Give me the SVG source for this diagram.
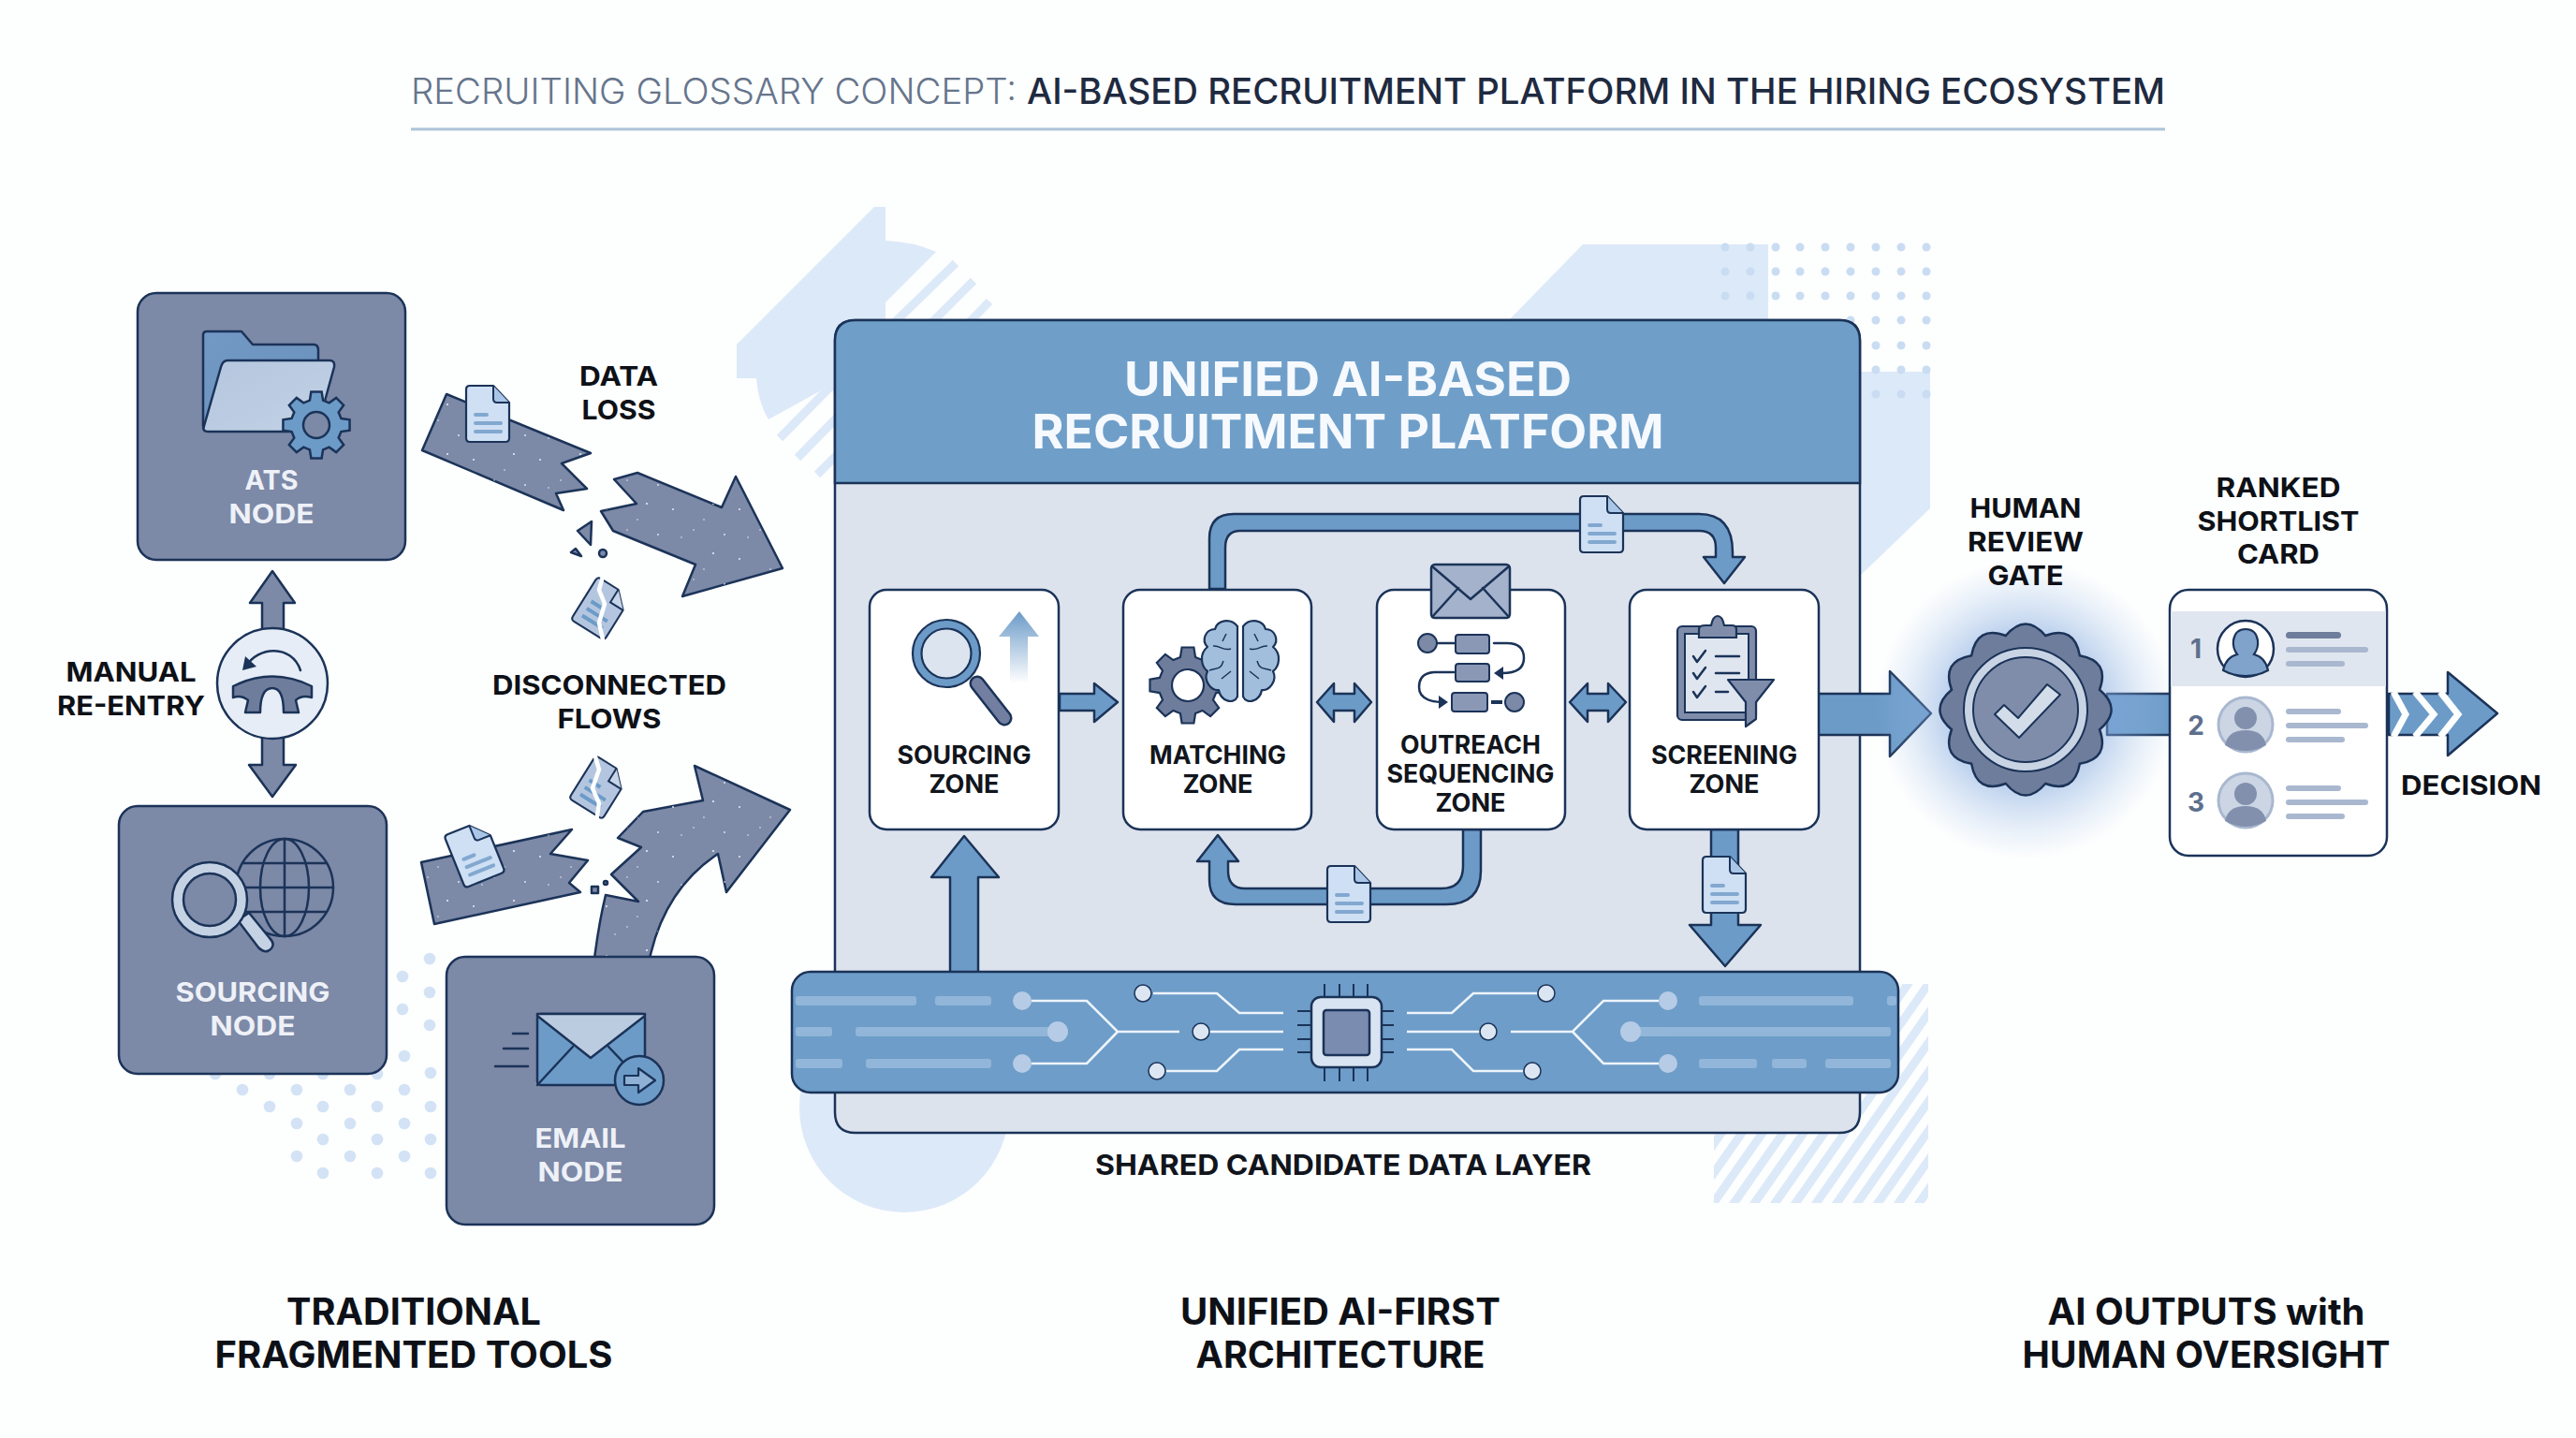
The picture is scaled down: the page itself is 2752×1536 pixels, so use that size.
<svg xmlns="http://www.w3.org/2000/svg" width="2752" height="1536" viewBox="0 0 2752 1536">
<style>
text{font-family:"Inter","Open Sans","Liberation Sans",sans-serif;text-anchor:middle;font-weight:700;fill:#0d1117}
.lb{font-size:29px}
.nl{font-size:28px;fill:#eef1f7}
.zl{font-size:27px;fill:#11151c}
.bt{font-size:39px}
.ht{font-size:51px;fill:#f6f9fd}
.tt{font-size:38px;text-anchor:start;fill:#1e2a40;font-weight:500}
.tl{fill:#66758c;font-weight:300}
.n{fill:#7c89a7;stroke:#1b3358;stroke-width:2.5}
.o{stroke:#1b3358;stroke-width:2.5;stroke-linejoin:round}
.bf{fill:#6c9bc8}
.wl{fill:none;stroke:#eef4fb;stroke-width:2.6}
.nd{fill:#dbe6f2;stroke:#1b3358;stroke-width:1.5}
.gn{fill:#b6cbe6}
.pin{stroke:#1b3358;stroke-width:2;fill:none}
.dsh{fill:#a9c6e4;opacity:.62}
.bg{fill:#dce9f8}
.bs{stroke:#dce9f8;stroke-width:9;fill:none}
.line{fill:none;stroke:#1b3358;stroke-width:2.5;stroke-linecap:round;stroke-linejoin:round}
.rl{fill:#a9b8cf}
.rk{fill:#5e6f8e;font-size:28px}
</style>
<defs>
<linearGradient id="fade" x1="0" y1="0" x2="0" y2="1"><stop offset="0" stop-color="#6c9bc8"/><stop offset="1" stop-color="#6c9bc8" stop-opacity="0"/></linearGradient>
<linearGradient id="fold" x1="0" y1="0" x2="1" y2="1"><stop offset="0" stop-color="#7298c4"/><stop offset="1" stop-color="#6a90bc"/></linearGradient>
<linearGradient id="fold2" x1="0" y1="0" x2="1" y2="1"><stop offset="0" stop-color="#b4c6de"/><stop offset="1" stop-color="#c2d2e6"/></linearGradient>
<radialGradient id="glow"><stop offset="0.45" stop-color="#7aa3dc" stop-opacity=".6"/><stop offset="1" stop-color="#a9c6ea" stop-opacity="0"/></radialGradient>
<pattern id="hatch" width="18" height="18" patternUnits="userSpaceOnUse" patternTransform="rotate(35)"><rect width="9" height="18" fill="#dce9f8"/></pattern>
<pattern id="speck" width="71" height="53" patternUnits="userSpaceOnUse">
<g fill="#e8edf5"><circle cx="9" cy="14" r="1"/><circle cx="31" cy="36" r=".8"/><circle cx="52" cy="8" r="1.1"/><circle cx="64" cy="41" r=".9"/><circle cx="18" cy="44" r=".8"/><circle cx="42" cy="25" r=".8"/></g></pattern>
<polygon id="gear" points=".734,-.197 .988,-.156 .988,.156 .734,.197 .658,.38 .809,.588 .588,.809 .38,.658 .197,.734 .156,.988 -.156,.988 -.197,.734 -.38,.658 -.588,.809 -.809,.588 -.658,.38 -.734,.197 -.988,.156 -.988,-.156 -.734,-.197 -.658,-.38 -.809,-.588 -.588,-.809 -.38,-.658 -.197,-.734 -.156,-.988 .156,-.988 .197,-.734 .38,-.658 .588,-.809 .809,-.588 .658,-.38" vector-effect="non-scaling-stroke"/>
<g id="doc"><path d="M4 0H29L46 18V56Q46 60 42 60H4Q0 60 0 56V4Q0 0 4 0Z" fill="#cfe0f4" stroke="#1b3358" stroke-width="2.2" stroke-linejoin="round"/><path d="M29 0V14Q29 18 33 18H46" fill="#a9c6e6" stroke="#1b3358" stroke-width="2" stroke-linejoin="round"/><g fill="#82a8d0"><rect x="8" y="29" width="16" height="4" rx="2"/><rect x="8" y="38" width="31" height="4" rx="2"/><rect x="8" y="47" width="31" height="4" rx="2"/></g></g>
<g id="tdoc"><path d="M4 0H26L42 16V50Q42 54 38 54H4Q0 54 0 50V4Q0 0 4 0Z" fill="#b4c6df" stroke="#1b3358" stroke-width="2" stroke-linejoin="round"/><path d="M26 0V16H42" fill="#c6d5e8" stroke="#1b3358" stroke-width="2"/><g fill="#6c9bc8"><rect x="8" y="24" width="14" height="4"/><rect x="8" y="33" width="26" height="4"/><rect x="8" y="42" width="26" height="4"/></g></g>
<path id="badge" d="M.850 .228Q.970 .56 .622 .622Q.56 .970 .228 .850Q0 1.12 -.228 .850Q-.56 .970 -.622 .622Q-.97 .56 -.850 .228Q-1.12 0 -.850 -.228Q-.97 -.56 -.622 -.622Q-.56 -.97 -.228 -.850Q0 -1.12 .228 -.850Q.56 -.97 .622 -.622Q.97 -.56 .850 -.228Q1.12 0 .850 .228Z" vector-effect="non-scaling-stroke"/>
<path id="lobe" d="M1322 669C1314 659 1300 663 1298 672C1288 672 1283 684 1290 691C1281 698 1283 712 1290 717C1285 727 1294 738 1302 737C1304 749 1318 753 1322 744Z" fill="#a1bfdd" stroke="#1b3358" stroke-width="2.2" stroke-linejoin="round"/>
<path id="sulci" d="M1296 690C1304 689 1306 696 1315 693M1292 716C1300 713 1304 716 1307 706M1305 725L1315 717M1310 677L1306 685" fill="none" stroke="#1b3358" stroke-width="1.5"/>
</defs>
<rect width="2752" height="1536" fill="#fdfefe"/>

<g id="background">
<path class="bg" d="M934 221H946V257Q975 258 1000 269L946 323V420H890V410L821 448Q810 430 808 404H787V368Z"/>
<path class="bs" d="M1021 281L950 350M1040 300L990 350M1057 322L1030 350M833 468L900 400M852 489L900 440M873 507L900 480"/>
<path class="bg" d="M1691 261H1889V397H2062V543L1987 615V400L1612 342Z"/>
<g fill="#c9dcf2" id="dotsTop">
<circle cx="1843" cy="264" r="4.5"/><circle cx="1870" cy="264" r="4.5"/><circle cx="1897" cy="264" r="4.5"/><circle cx="1923" cy="264" r="4.5"/><circle cx="1950" cy="264" r="4.5"/><circle cx="1977" cy="264" r="4.5"/><circle cx="2004" cy="264" r="4.5"/><circle cx="2031" cy="264" r="4.5"/><circle cx="2058" cy="264" r="4.5"/>
<circle cx="1843" cy="290" r="4.5"/><circle cx="1870" cy="290" r="4.5"/><circle cx="1897" cy="290" r="4.5"/><circle cx="1923" cy="290" r="4.5"/><circle cx="1950" cy="290" r="4.5"/><circle cx="1977" cy="290" r="4.5"/><circle cx="2004" cy="290" r="4.5"/><circle cx="2031" cy="290" r="4.5"/><circle cx="2058" cy="290" r="4.5"/>
<circle cx="1843" cy="316" r="4.5"/><circle cx="1870" cy="316" r="4.5"/><circle cx="1897" cy="316" r="4.5"/><circle cx="1923" cy="316" r="4.5"/><circle cx="1950" cy="316" r="4.5"/><circle cx="1977" cy="316" r="4.5"/><circle cx="2004" cy="316" r="4.5"/><circle cx="2031" cy="316" r="4.5"/><circle cx="2058" cy="316" r="4.5"/>
<circle cx="1977" cy="342" r="4.5"/><circle cx="2004" cy="342" r="4.5"/><circle cx="2031" cy="342" r="4.5"/><circle cx="2058" cy="342" r="4.5"/>
<circle cx="2004" cy="369" r="4.5"/><circle cx="2031" cy="369" r="4.5"/><circle cx="2058" cy="369" r="4.5"/>
<circle cx="2004" cy="395" r="4.5"/><circle cx="2031" cy="395" r="4.5"/><circle cx="2058" cy="395" r="4.5"/>
<circle cx="2004" cy="421" r="4.5"/><circle cx="2031" cy="421" r="4.5"/><circle cx="2058" cy="421" r="4.5"/>
</g>
<g fill="#d3e3f5" id="dotsBottom">
<circle cx="459" cy="1024" r="6.3"/><circle cx="430" cy="1043" r="6.3"/><circle cx="459" cy="1060" r="6.3"/><circle cx="430" cy="1078" r="6.3"/><circle cx="459" cy="1095" r="6.3"/><circle cx="432" cy="1128" r="6.3"/><circle cx="460" cy="1146" r="6.3"/>
<circle cx="230" cy="1147" r="6.3"/><circle cx="288" cy="1147" r="6.3"/><circle cx="345" cy="1147" r="6.3"/><circle cx="403" cy="1147" r="6.3"/>
<circle cx="259" cy="1164" r="6.3"/><circle cx="317" cy="1164" r="6.3"/><circle cx="374" cy="1164" r="6.3"/><circle cx="432" cy="1164" r="6.3"/>
<circle cx="288" cy="1182" r="6.3"/><circle cx="345" cy="1182" r="6.3"/><circle cx="403" cy="1182" r="6.3"/><circle cx="460" cy="1182" r="6.3"/>
<circle cx="317" cy="1200" r="6.3"/><circle cx="374" cy="1200" r="6.3"/><circle cx="432" cy="1200" r="6.3"/>
<circle cx="345" cy="1217" r="6.3"/><circle cx="403" cy="1217" r="6.3"/><circle cx="460" cy="1217" r="6.3"/>
<circle cx="317" cy="1235" r="6.3"/><circle cx="374" cy="1235" r="6.3"/><circle cx="432" cy="1235" r="6.3"/>
<circle cx="345" cy="1253" r="6.3"/><circle cx="403" cy="1253" r="6.3"/><circle cx="460" cy="1253" r="6.3"/>
</g>
<circle class="bg" cx="966" cy="1183" r="112"/>
<rect x="1831" y="1051" width="229" height="234" fill="url(#hatch)"/>
</g>

<g id="title">
<text class="tt tl" x="439" y="111" textLength="647" lengthAdjust="spacingAndGlyphs">RECRUITING GLOSSARY CONCEPT:</text>
<text class="tt" x="1097" y="111" textLength="1216" lengthAdjust="spacingAndGlyphs">AI-BASED RECRUITMENT PLATFORM IN THE HIRING ECOSYSTEM</text>
<rect x="439" y="136.5" width="1874" height="3" fill="#aec3da"/>
</g>

<g id="platform-panel">
<path d="M914 342H1965Q1987 342 1987 364V1188Q1987 1210 1965 1210H914Q892 1210 892 1188V364Q892 342 914 342Z" fill="#dce3ed" stroke="#1b3358" stroke-width="2.5"/>
<path d="M914 342H1965Q1987 342 1987 364V516H892V364Q892 342 914 342Z" fill="#6f9fc9" stroke="#1b3358" stroke-width="2.5"/>
<text class="ht" x="1440" y="423" textLength="478" lengthAdjust="spacingAndGlyphs">UNIFIED AI-BASED</text>
<text class="ht" x="1440" y="479" textLength="675" lengthAdjust="spacingAndGlyphs">RECRUITMENT PLATFORM</text>
</g>

<g id="connectors">
<g id="broken-top" class="o">
<polygon class="n" points="477,421 631,484 600,495 627,522 594,527 602,545 451,481"/>
<polygon points="477,421 631,484 600,495 627,522 594,527 602,545 451,481" fill="url(#speck)" stroke="none"/>
<polygon class="n" points="656,512 681,505 771,542 786,509 836,607 729,637 743,603 655,567 642,546 680,538"/>
<polygon points="656,512 681,505 771,542 786,509 836,607 729,637 743,603 655,567 642,546 680,538" fill="url(#speck)" stroke="none"/>
<polygon class="n" points="617,567 632,557 631,582"/>
<polygon class="n" points="610,590 615,586 621,594"/>
<circle class="n" cx="644" cy="591" r="4"/>
</g>
<use href="#doc" x="498" y="412"/>
<g transform="translate(642 650) rotate(32) translate(-21 -27)"><use href="#tdoc"/></g>
<path d="M645 612L640 630L646 645L640 665L645 688" fill="none" stroke="#fdfefe" stroke-width="4.5"/>

<g id="broken-bottom" class="o">
<polygon class="n" points="450,921 611,886 588,912 628,919 608,943 620,953 464,987"/>
<polygon points="450,921 611,886 588,912 628,919 608,943 620,953 464,987" fill="url(#speck)" stroke="none"/>
<path class="n" d="M635 1024Q640 985 647 956L682 963L665 946L653 934L685 905L660 895L687 867L751 855L742 818L844 865L776 953L767 912Q710 950 694 1024Z"/>
<path d="M635 1024Q640 985 647 956L682 963L665 946L653 934L685 905L660 895L687 867L751 855L742 818L844 865L776 953L767 912Q710 950 694 1024Z" fill="url(#speck)" stroke="none"/>
<rect class="n" x="632" y="947" width="7" height="7"/><circle class="n" cx="647" cy="943" r="2"/>
</g>
<g transform="translate(507 912) rotate(-22) translate(-23 -30)"><use href="#doc"/></g>
<g transform="translate(640 841) rotate(32) translate(-21 -27)"><use href="#tdoc"/></g>
<path d="M635 805L640 822L633 842L640 858L637 878" fill="none" stroke="#fdfefe" stroke-width="4.5"/>

<polygon class="n o" points="291,610 315,644 303,644 303,680 280,680 280,644 267,644"/>
<polygon class="n o" points="280,780 303,780 303,817 316,817 291,851 266,817 280,817"/>

<g class="o bf">
<polygon points="1132,741 1169,741 1169,730 1194,750 1169,771 1169,759 1132,759"/>
<polygon points="1407,750 1425,730 1425,741 1447,741 1447,730 1465,750 1447,771 1447,759 1425,759 1425,771"/>
<polygon points="1677,750 1696,730 1696,741 1718,741 1718,730 1737,750 1718,771 1718,759 1696,759 1696,771"/>
<path d="M1292 629V575Q1292 549 1318 549H1815Q1851 549 1851 590V595H1864L1842 623L1820 595H1833V585Q1833 567 1815 567H1325Q1309 567 1309 585V629Z"/>
<path d="M1563 886V925Q1563 949 1540 949H1330Q1312 949 1312 930V920H1323L1301 892L1279 920H1292V940Q1292 966 1320 966H1545Q1582 966 1582 930V886Z"/>
<polygon points="1030,893 1067,937 1045,937 1045,1040 1015,1040 1015,937 995,937"/>
<polygon points="1828,886 1857,886 1857,988 1881,988 1843,1032 1805,988 1828,988"/>
<polygon points="1942,741 2019,741 2019,717 2063,762 2019,808 2019,785 1942,785"/>
<rect x="2251" y="741" width="70" height="44"/>
<polygon points="2552,741 2615,741 2615,718 2668,762 2615,807 2615,785 2552,785"/>
</g>
<path d="M2557 739L2570 763L2557 787M2580 739L2600 763L2580 787M2607 739L2626 763L2607 787" fill="none" stroke="#fdfefe" stroke-width="7"/>
<use href="#doc" x="1688" y="530"/>
<use href="#doc" x="1418" y="925"/>
<use href="#doc" x="1819" y="915"/>
</g>

<g id="ats-node">
<rect class="n" x="147" y="313" width="286" height="285" rx="20"/>
<path class="line" d="M221 354H258L270 368H335Q340 368 340 374V460H222Q217 460 217 455V358Q217 354 221 354Z" style="fill:url(#fold)"/>
<path class="line" d="M243 385H352Q358 385 357 392L338 461H222Q216 461 218 455L236 392Q238 385 243 385Z" style="fill:url(#fold2)"/>
<use href="#gear" transform="translate(338 454) scale(36)" fill="#6c9bc8" stroke="#1b3358" stroke-width="2.5"/>
<circle cx="338" cy="454" r="14" fill="#7c89a7" stroke="#1b3358" stroke-width="2.5"/>
<text class="nl" x="290" y="523" textLength="57" lengthAdjust="spacingAndGlyphs">ATS</text>
<text class="nl" x="290" y="559" textLength="91" lengthAdjust="spacingAndGlyphs">NODE</text>
</g>

<g id="sourcing-node">
<rect class="n" x="127" y="861" width="286" height="286" rx="20"/>
<circle cx="304" cy="948" r="52" fill="#7c89a7" stroke="#1b3358" stroke-width="2.5"/>
<ellipse cx="304" cy="948" rx="26" ry="52" fill="none" stroke="#1b3358" stroke-width="2.5"/>
<path d="M304 896V1000M252 948H356M259 922H349M259 974H349" class="line"/>
<path d="M254 983L276 1012Q284 1020 290 1013Q294 1008 288 1002L266 975Z" fill="#c4d2e4" stroke="#1b3358" stroke-width="2.5"/>
<circle cx="224" cy="961" r="34" fill="#7c89a7" stroke="#c4d2e4" stroke-width="11"/>
<circle cx="224" cy="961" r="40" fill="none" stroke="#1b3358" stroke-width="2.5"/><circle cx="224" cy="961" r="28" fill="none" stroke="#1b3358" stroke-width="2.5"/>
<text class="nl" x="270" y="1070" textLength="165" lengthAdjust="spacingAndGlyphs">SOURCING</text>
<text class="nl" x="270" y="1106" textLength="91" lengthAdjust="spacingAndGlyphs">NODE</text>
</g>

<g id="email-node">
<rect class="n" x="477" y="1022" width="286" height="286" rx="20"/>
<path d="M548 1104H564M538 1120H564M529 1139H564" class="line" stroke-width="2"/>
<rect x="574" y="1083" width="115" height="76" rx="4" fill="#6c9bc8" stroke="#1b3358" stroke-width="2.5"/>
<path d="M574 1085L631 1130L689 1085V1083H574Z" fill="#bccce0" stroke="#1b3358" stroke-width="2.5" stroke-linejoin="round"/>
<path d="M574 1159L612 1118M689 1159L650 1118" class="line" stroke-width="2"/>
<circle cx="683" cy="1154" r="26" fill="#6c9bc8" stroke="#1b3358" stroke-width="2.5"/>
<path d="M667 1149H682V1141L700 1154L682 1167V1159H667Z" fill="#8fb1d6" stroke="#1b3358" stroke-width="2.2" stroke-linejoin="round"/>
<text class="nl" x="620" y="1226" textLength="97" lengthAdjust="spacingAndGlyphs">EMAIL</text>
<text class="nl" x="620" y="1262" textLength="91" lengthAdjust="spacingAndGlyphs">NODE</text>
</g>

<g id="manual-reentry">
<circle cx="291" cy="730" r="59" fill="#e6edf6" stroke="#1b3358" stroke-width="2.5"/>
<path d="M321 716C312 688 275 690 263 712" class="line"/>
<polygon points="259,716 262,701 274,712" fill="#1b3358"/>
<path d="M249 733Q291 712 333 733V745Q322 742 316 748L319 761H303Q303 735 291 735Q278 735 278 761H262L265 748Q258 742 249 745Z" fill="#6f7d9c" stroke="#1b3358" stroke-width="2.5" stroke-linejoin="round"/>
<text class="lb" x="140" y="728" textLength="139" lengthAdjust="spacingAndGlyphs">MANUAL</text>
<text class="lb" x="140" y="764" textLength="158" lengthAdjust="spacingAndGlyphs">RE-ENTRY</text>
</g>

<g id="labels-left">
<text class="lb" x="661" y="412" textLength="84" lengthAdjust="spacingAndGlyphs">DATA</text>
<text class="lb" x="661" y="448" textLength="79" lengthAdjust="spacingAndGlyphs">LOSS</text>
<text class="lb" x="651" y="742" textLength="250" lengthAdjust="spacingAndGlyphs">DISCONNECTED</text>
<text class="lb" x="651" y="778" textLength="111" lengthAdjust="spacingAndGlyphs">FLOWS</text>
</g>

<g id="sourcing-zone">
<rect x="929" y="630" width="202" height="256" rx="18" fill="#fff" stroke="#1b3358" stroke-width="2.5"/>
<path d="M1044 730L1073 767" stroke="#1b3358" stroke-width="17" stroke-linecap="round"/><path d="M1044 730L1073 767" stroke="#727fa0" stroke-width="12" stroke-linecap="round"/>
<circle cx="1011" cy="698" r="31" fill="#dbe4ef" stroke="#6c9bc8" stroke-width="9"/>
<circle cx="1011" cy="698" r="36" fill="none" stroke="#1b3358" stroke-width="2.2"/><circle cx="1011" cy="698" r="26.5" fill="none" stroke="#1b3358" stroke-width="2.2"/>
<path d="M1079 730V680H1067L1089 653L1110 680H1098V730Z" fill="url(#fade)"/>
<text class="zl" x="1030" y="816" textLength="143" lengthAdjust="spacingAndGlyphs">SOURCING</text>
<text class="zl" x="1030" y="847" textLength="75" lengthAdjust="spacingAndGlyphs">ZONE</text>
</g>

<g id="matching-zone">
<rect x="1200" y="630" width="201" height="256" rx="18" fill="#fff" stroke="#1b3358" stroke-width="2.5"/>
<use href="#gear" transform="translate(1269 732) scale(41)" fill="#6f7d9c" stroke="#1b3358" stroke-width="2.2"/>
<circle cx="1269" cy="732" r="17" fill="#fff" stroke="#1b3358" stroke-width="2.2"/>
<use href="#lobe"/><use href="#sulci"/>
<g transform="translate(2650 0) scale(-1 1)"><use href="#lobe"/><use href="#sulci"/></g>
<text class="zl" x="1301" y="816" textLength="146" lengthAdjust="spacingAndGlyphs">MATCHING</text>
<text class="zl" x="1301" y="847" textLength="75" lengthAdjust="spacingAndGlyphs">ZONE</text>
</g>

<g id="outreach-zone">
<rect x="1471" y="630" width="201" height="256" rx="18" fill="#fff" stroke="#1b3358" stroke-width="2.5"/>
<rect x="1529" y="603" width="84" height="57" rx="4" fill="#a4b2cc" stroke="#1b3358" stroke-width="2.5"/>
<path d="M1530 605L1571 640L1612 605M1530 659L1558 628M1612 659L1584 628" class="line" stroke-width="2"/>
<circle cx="1525" cy="687" r="10" fill="#7c89a7" stroke="#1b3358" stroke-width="2"/>
<path d="M1536 687H1555M1596 687H1610Q1628 687 1628 703T1605 719" class="line" stroke-width="2"/>
<rect x="1555" y="678" width="36" height="20" rx="3" fill="#8a98b6" stroke="#1b3358" stroke-width="2"/>
<polygon points="1596,719 1606,712 1606,726" fill="#1b3358"/>
<rect x="1555" y="709" width="36" height="19" rx="3" fill="#8a98b6" stroke="#1b3358" stroke-width="2"/>
<path d="M1553 718H1532Q1516 719 1516 734T1540 750" class="line" stroke-width="2"/>
<polygon points="1547,750 1537,743 1537,757" fill="#1b3358"/>
<rect x="1551" y="740" width="38" height="20" rx="3" fill="#8a98b6" stroke="#1b3358" stroke-width="2"/>
<path d="M1593 750H1605" stroke="#1b3358" stroke-width="4"/>
<circle cx="1618" cy="750" r="10" fill="#7c89a7" stroke="#1b3358" stroke-width="2"/>
<text class="zl" x="1571" y="805" textLength="150" lengthAdjust="spacingAndGlyphs">OUTREACH</text>
<text class="zl" x="1571" y="836" textLength="179" lengthAdjust="spacingAndGlyphs">SEQUENCING</text>
<text class="zl" x="1571" y="867" textLength="75" lengthAdjust="spacingAndGlyphs">ZONE</text>
</g>

<g id="screening-zone">
<rect x="1741" y="630" width="202" height="256" rx="18" fill="#fff" stroke="#1b3358" stroke-width="2.5"/>
<rect x="1792" y="669" width="84" height="100" rx="5" fill="#7f8dab" stroke="#1b3358" stroke-width="2.2"/>
<rect x="1800" y="677" width="68" height="84" fill="#dfe6f0" stroke="#1b3358" stroke-width="2"/>
<path d="M1815 681V672Q1815 668 1822 668H1828Q1830 658 1835 658T1842 668H1850Q1855 668 1855 672V681Z" fill="#7f8dab" stroke="#1b3358" stroke-width="2.2"/>
<path d="M1809 701L1813 707L1822 695M1833 701H1858M1809 719L1813 725L1822 713M1833 719H1858M1809 739L1813 745L1822 733M1833 739H1846" class="line"/>
<path d="M1846 726H1895L1876 750V768L1865 776V750Z" fill="#7f8dab" stroke="#1b3358" stroke-width="2.2" stroke-linejoin="round"/>
<text class="zl" x="1842" y="816" textLength="156" lengthAdjust="spacingAndGlyphs">SCREENING</text>
<text class="zl" x="1842" y="847" textLength="75" lengthAdjust="spacingAndGlyphs">ZONE</text>
</g>

<g id="data-layer">
<rect x="846" y="1038" width="1182" height="129" rx="20" fill="#6d9dc8" stroke="#1b3358" stroke-width="2.5"/>
<g class="dsh">
<rect x="850" y="1064" width="129" height="10" rx="3"/><rect x="999" y="1064" width="60" height="10" rx="3"/>
<rect x="850" y="1097" width="39" height="10" rx="3"/><rect x="914" y="1097" width="216" height="10" rx="3"/>
<rect x="850" y="1131" width="50" height="10" rx="3"/><rect x="925" y="1131" width="134" height="10" rx="3"/>
<rect x="1815" y="1064" width="165" height="10" rx="3"/><rect x="2016" y="1064" width="10" height="10" rx="3"/>
<rect x="1742" y="1097" width="278" height="10" rx="3"/>
<rect x="1815" y="1131" width="62" height="10" rx="3"/><rect x="1893" y="1131" width="37" height="10" rx="3"/><rect x="1950" y="1131" width="70" height="10" rx="3"/>
</g>
<path class="wl" d="M1371 1082H1324L1300 1061H1232M1371 1102H1292M1371 1121H1324L1300 1144H1246M1260 1102H1194L1161 1069H1102M1194 1102L1161 1136H1102"/>
<path class="wl" d="M1503 1082H1551L1574 1061H1642M1503 1102H1582M1503 1121H1551L1574 1144H1627M1614 1102H1680L1713 1069H1772M1680 1102L1713 1136H1772"/>
<g class="nd"><circle cx="1221" cy="1061" r="9"/><circle cx="1283" cy="1102" r="9"/><circle cx="1236" cy="1144" r="9"/><circle cx="1652" cy="1061" r="9"/><circle cx="1590" cy="1102" r="9"/><circle cx="1637" cy="1144" r="9"/></g>
<g class="gn"><circle cx="1092" cy="1069" r="10"/><circle cx="1130" cy="1102" r="11"/><circle cx="1092" cy="1136" r="10"/><circle cx="1782" cy="1069" r="10"/><circle cx="1742" cy="1102" r="11"/><circle cx="1782" cy="1136" r="10"/></g>
<path class="pin" d="M1415 1051V1065M1431 1051V1065M1446 1051V1065M1461 1051V1065M1415 1140V1155M1431 1140V1155M1446 1140V1155M1461 1140V1155"/>
<path class="pin" d="M1386 1080H1401M1386 1095H1401M1386 1110H1401M1386 1124H1401M1475 1080H1489M1475 1095H1489M1475 1110H1489M1475 1124H1489" stroke-width="3"/>
<rect x="1401" y="1065" width="75" height="75" rx="10" fill="#d8e4f2" stroke="#1b3358" stroke-width="2.5"/>
<rect x="1414" y="1079" width="49" height="48" rx="3" fill="#7a8db0" stroke="#1b3358" stroke-width="2.5"/>
<text class="zl" x="1435" y="1255" style="font-size:30px" textLength="530" lengthAdjust="spacingAndGlyphs">SHARED CANDIDATE DATA LAYER</text>
</g>

<g id="human-review-gate">
<circle cx="2164" cy="758" r="160" fill="url(#glow)"/>
<use href="#badge" transform="translate(2164 758) scale(93)" fill="#6f7d9c" stroke="#1b3358" stroke-width="2.5"/>
<circle cx="2164" cy="758" r="61" fill="#7f8dab" stroke="#c8d4e4" stroke-width="10"/>
<circle cx="2164" cy="758" r="66" fill="none" stroke="#1b3358" stroke-width="2"/><circle cx="2164" cy="758" r="56" fill="none" stroke="#1b3358" stroke-width="2"/>
<polygon points="2131,763 2157,788 2201,742 2187,731 2156,767 2141,753" fill="#d3dde9" stroke="#1b3358" stroke-width="2" stroke-linejoin="round"/>
<text class="lb" x="2164" y="553" textLength="119" lengthAdjust="spacingAndGlyphs">HUMAN</text>
<text class="lb" x="2164" y="589" textLength="124" lengthAdjust="spacingAndGlyphs">REVIEW</text>
<text class="lb" x="2164" y="625" textLength="81" lengthAdjust="spacingAndGlyphs">GATE</text>
</g>

<g id="shortlist-card">
<rect x="2318" y="630" width="232" height="284" rx="20" fill="#fff" stroke="#1b3358" stroke-width="2.5"/>
<rect x="2319" y="653" width="230" height="80" fill="#e0e6f0"/>
<text class="rk" x="2346" y="703">1</text><text class="rk" x="2346" y="785">2</text><text class="rk" x="2346" y="867">3</text>
<circle cx="2399" cy="693" r="30" fill="#fff" stroke="#1b3358" stroke-width="2.5"/>
<path d="M2375 716Q2378 702 2390 699Q2385 692 2386 684Q2388 672 2399 672Q2410 672 2412 684Q2413 692 2408 699Q2420 702 2423 716Q2412 722 2399 722Q2386 722 2375 716Z" fill="#7fa3cb" stroke="#1b3358" stroke-width="2.2"/>
<circle cx="2399" cy="774" r="29" fill="#cbd5e4" stroke="#a9b8cf" stroke-width="3"/>
<circle cx="2399" cy="767" r="12" fill="#8290ad"/><path d="M2377 796Q2380 780 2399 780Q2418 780 2421 796Q2399 808 2377 796Z" fill="#8290ad"/>
<circle cx="2399" cy="855" r="29" fill="#cbd5e4" stroke="#a9b8cf" stroke-width="3"/>
<circle cx="2399" cy="848" r="12" fill="#8290ad"/><path d="M2377 877Q2380 861 2399 861Q2418 861 2421 877Q2399 889 2377 877Z" fill="#8290ad"/>
<rect x="2442" y="675" width="59" height="7" rx="3.5" fill="#6f7d9c"/><rect class="rl" x="2442" y="691" width="88" height="6" rx="3"/><rect class="rl" x="2442" y="706" width="63" height="6" rx="3"/>
<rect class="rl" x="2442" y="757" width="59" height="6" rx="3"/><rect class="rl" x="2442" y="772" width="88" height="6" rx="3"/><rect class="rl" x="2442" y="787" width="63" height="6" rx="3"/>
<rect class="rl" x="2442" y="839" width="59" height="6" rx="3"/><rect class="rl" x="2442" y="854" width="88" height="6" rx="3"/><rect class="rl" x="2442" y="869" width="63" height="6" rx="3"/>
<text class="lb" x="2434" y="531" textLength="133" lengthAdjust="spacingAndGlyphs">RANKED</text>
<text class="lb" x="2434" y="567" textLength="173" lengthAdjust="spacingAndGlyphs">SHORTLIST</text>
<text class="lb" x="2434" y="602" textLength="88" lengthAdjust="spacingAndGlyphs">CARD</text>
</g>

<g id="decision"><text class="lb" x="2640" y="849" textLength="150" lengthAdjust="spacingAndGlyphs">DECISION</text></g>

<g id="bottom-titles">
<text class="bt" x="442" y="1415" textLength="272" lengthAdjust="spacingAndGlyphs">TRADITIONAL</text>
<text class="bt" x="442" y="1461" textLength="425" lengthAdjust="spacingAndGlyphs">FRAGMENTED TOOLS</text>
<text class="bt" x="1432" y="1415" textLength="342" lengthAdjust="spacingAndGlyphs">UNIFIED AI-FIRST</text>
<text class="bt" x="1432" y="1461" textLength="309" lengthAdjust="spacingAndGlyphs">ARCHITECTURE</text>
<text class="bt" x="2357" y="1415" textLength="339" lengthAdjust="spacingAndGlyphs">AI OUTPUTS with</text>
<text class="bt" x="2357" y="1461" textLength="393" lengthAdjust="spacingAndGlyphs">HUMAN OVERSIGHT</text>
</g>
</svg>
